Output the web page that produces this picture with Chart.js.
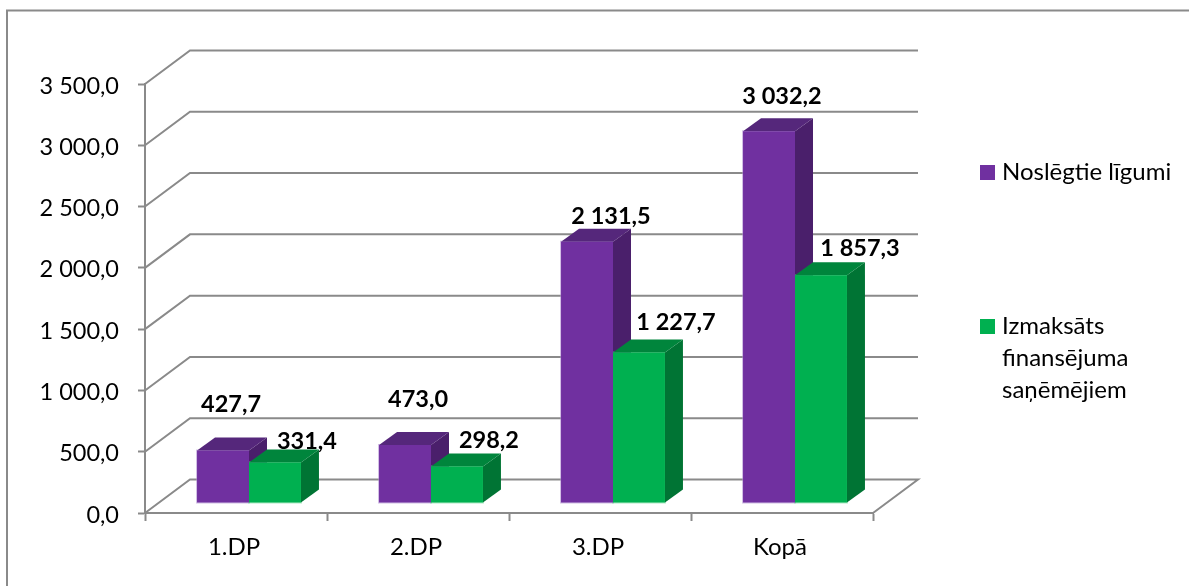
<!DOCTYPE html>
<html><head><meta charset="utf-8">
<style>html,body{margin:0;padding:0;background:#fff}canvas{display:block}</style>
<script src="https://cdn.jsdelivr.net/npm/chart.js@4/dist/chart.umd.min.js"></script>
</head><body><canvas id="c" width="1189" height="586"></canvas>
<script>
const categories = ['1.DP', '2.DP', '3.DP', 'Kopā'];
const contracts = [427.7, 473.0, 2131.5, 3032.2];
const paid = [331.4, 298.2, 1227.7, 1857.3];
const seriesNames = ['Noslēgtie līgumi', 'Izmaksāts finansējuma saņēmējiem'];
const legendLines = [['Noslēgtie līgumi'], ['Izmaksāts', 'finansējuma', 'saņēmējiem']];
const labelOffsets = [
  [[8, -46], [13, -46], [24, -25], [13, -35]],
  [[32, -21], [32, -26], [37, -30], [39, -27]]
];
const FONT = 'Lato, "Open Sans", sans-serif';
const GRID = '#8a8a8a';
const WALL = {dx: 45, dy: 33.5};
const BAR = {shiftX: 13, shiftY: -10, dx: 18, dy: 13};
const shades = [
  {front: '#7030A0', edge: 'rgba(170,135,205,0.55)', top: '#55277B', side: '#4A1F6B', swatch: '#7030A0'},
  {front: '#00B050', edge: 'rgba(110,215,150,0.55)', top: '#00853C', side: '#007434', swatch: '#00B050'}
];
const fmt = v => {
  const s = Number(v).toFixed(1).replace('.', ',');
  return s.replace(/^(\d+)(\d{3}),/, '$1 $2,');
};
const scene = {
  id: 'scene',
  beforeDraw(chart) {
    const c = chart.ctx;
    c.save();
    c.strokeStyle = '#8a8a8a'; c.lineWidth = 2;
    c.beginPath(); c.moveTo(7, 586); c.lineTo(7, 10.5); c.lineTo(1189, 10.5); c.stroke();
    const y = chart.scales.y, a = chart.chartArea;
    c.strokeStyle = GRID; c.lineWidth = 2;
    y.ticks.forEach(t => {
      const p = y.getPixelForValue(t.value);
      c.beginPath();
      c.moveTo(a.left, p);
      c.lineTo(a.left + WALL.dx, p - WALL.dy);
      c.lineTo(a.right + WALL.dx, p - WALL.dy);
      if (t.value === 0) c.lineTo(a.right, p);
      c.stroke();
    });
    c.restore();
  },
  beforeDatasetsDraw(chart) {
    const c = chart.ctx;
    c.save();
    c.translate(BAR.shiftX, BAR.shiftY);
    chart.data.datasets.forEach((ds, i) => {
      const sh = shades[i];
      chart.getDatasetMeta(i).data.forEach(b => {
        const l = b.x - b.width / 2, r = b.x + b.width / 2, t = b.y, bt = b.base;
        c.strokeStyle = sh.edge; c.lineWidth = 2;
        c.strokeRect(l, t, r - l, bt - t);
        c.fillStyle = sh.side;
        c.beginPath(); c.moveTo(r, t); c.lineTo(r + BAR.dx, t - BAR.dy); c.lineTo(r + BAR.dx, bt - BAR.dy); c.lineTo(r, bt); c.closePath(); c.fill();
        c.fillStyle = sh.top;
        c.beginPath(); c.moveTo(l, t); c.lineTo(l + BAR.dx, t - BAR.dy); c.lineTo(r + BAR.dx, t - BAR.dy); c.lineTo(r, t); c.closePath(); c.fill();
      });
    });
    c.restore();
  },
  beforeDatasetDraw(chart) {
    chart.ctx.save();
    chart.ctx.translate(BAR.shiftX, BAR.shiftY);
  },
  afterDatasetDraw(chart) { chart.ctx.restore(); },
  afterDatasetsDraw(chart) {
    const c = chart.ctx;
    c.save();
    c.font = 'bold 23.5px ' + FONT; c.fillStyle = '#000'; c.textAlign = 'center'; c.textBaseline = 'middle';
    chart.data.datasets.forEach((ds, i) => {
      chart.getDatasetMeta(i).data.forEach((b, j) => {
        const o = labelOffsets[i][j];
        c.fillText(fmt(ds.data[j]), b.x + BAR.shiftX + o[0], b.y + BAR.shiftY + o[1]);
      });
    });
    c.font = '24px ' + FONT; c.textAlign = 'left';
    const tops = [172.5, 326.5], gap = 32;
    legendLines.forEach((lines, i) => {
      c.fillStyle = shades[i].swatch;
      c.fillRect(980, tops[i] - 7.5, 15, 15);
      c.fillStyle = '#000';
      lines.forEach((ln, k) => c.fillText(ln, 1002, tops[i] + k * gap));
    });
    c.restore();
  }
};
new Chart(document.getElementById('c'), {
  type: 'bar',
  data: {
    labels: categories,
    datasets: [contracts, paid].map((d, i) => ({
      label: seriesNames[i], data: d, clip: false,
      backgroundColor: shades[i].front, borderWidth: 0,
      categoryPercentage: 0.571, barPercentage: 1
    }))
  },
  options: {
    responsive: false, animation: false,
    layout: {padding: {top: 84, right: 316, left: 0, bottom: 0}},
    plugins: {legend: {display: false}, tooltip: {enabled: false}},
    scales: {
      x: {
        afterFit(s) { s.height = 73; },
        grid: {drawOnChartArea: false, drawTicks: true, tickLength: 8, tickColor: GRID, tickWidth: 2},
        border: {color: GRID, width: 2},
        ticks: {color: '#000', font: {family: FONT, size: 24}, padding: 12, labelOffset: -2, maxRotation: 0}
      },
      y: {
        min: 0, max: 3500,
        afterFit(s) { s.width = 145; },
        grid: {drawOnChartArea: false, drawTicks: true, tickLength: 7, tickColor: GRID, tickWidth: 2},
        border: {color: GRID, width: 2},
        ticks: {stepSize: 500, color: '#000', font: {family: FONT, size: 23.5}, padding: 19, labelOffset: 2, callback: v => fmt(v)}
      }
    }
  },
  plugins: [scene]
});
</script></body></html>
